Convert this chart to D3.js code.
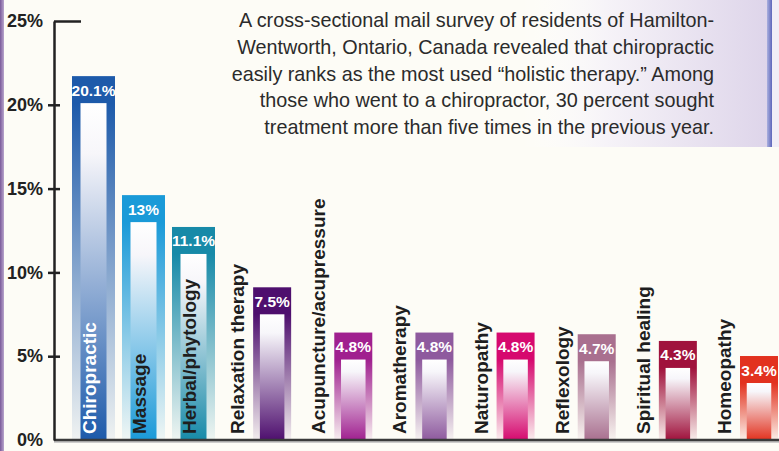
<!DOCTYPE html>
<html>
<head>
<meta charset="utf-8">
<script src="https://cdn.jsdelivr.net/npm/d3@7/dist/d3.min.js"></script>
<style>
	html, body { margin: 0; padding: 0; background: #fdfcf6; overflow: hidden; }
	svg { display: block; }
</style>
</head>
<body>
<div id="chart"></div>
<script>
const categories = ['Chiropractic', 'Massage', 'Herbal/phytology', 'Relaxation therapy', 'Acupuncture/acupressure',
	'Aromatherapy', 'Naturopathy', 'Reflexology', 'Spiritual healing', 'Homeopathy'];
const values = [20.1, 13, 11.1, 7.5, 4.8, 4.8, 4.8, 4.7, 4.3, 3.4];
const barColors = ['#1d5aaa', '#1a9ad8', '#178aa8', '#4e0f6e', '#a0208f', '#8e5a9e', '#d6096e', '#a9708f', '#a0123c', '#e2321f'];
const yTicks = [0, 5, 10, 15, 20, 25];
const noteLines = [
	'A cross-sectional mail survey of residents of Hamilton-',
	'Wentworth, Ontario, Canada revealed that chiropractic',
	'easily ranks as the most used \u201cholistic therapy.\u201d Among',
	'those who went to a chiropractor, 30 percent sought',
	'treatment more than five times in the previous year.'
];

const W = 779, H = 451;
const axisX = 54;
const labelBand = 27;   // coloured strip above each value that carries the % label

const svg = d3.select('#chart').append('svg').attr('width', W).attr('height', H);
const defs = svg.append('defs');

// background
svg.append('rect').attr('width', W).attr('height', H).attr('fill', '#fdfcf6');

const leftStrip = defs.append('linearGradient').attr('id', 'left-strip');
leftStrip.append('stop').attr('offset', 0).attr('stop-color', '#7a5a9a');
leftStrip.append('stop').attr('offset', 1).attr('stop-color', '#b9a6cc');
svg.append('rect').attr('x', 0).attr('y', 0).attr('width', 4).attr('height', H).attr('fill', 'url(#left-strip)');

const panel = defs.append('linearGradient').attr('id', 'note-panel');
panel.append('stop').attr('offset', 0).attr('stop-color', '#ffffff').attr('stop-opacity', 0);
panel.append('stop').attr('offset', 0.35).attr('stop-color', '#f6f3f8');
panel.append('stop').attr('offset', 1).attr('stop-color', '#ded5ea');
svg.append('rect').attr('x', 520).attr('y', 0).attr('width', 247).attr('height', 147).attr('fill', 'url(#note-panel)');

const edge = defs.append('linearGradient').attr('id', 'note-edge');
edge.append('stop').attr('offset', 0).attr('stop-color', '#aab0de');
edge.append('stop').attr('offset', 1).attr('stop-color', '#5e66bb');
svg.append('rect').attr('x', 767).attr('y', 0).attr('width', 5).attr('height', 147).attr('fill', 'url(#note-edge)');
svg.append('rect').attr('x', 772).attr('y', 0).attr('width', 7).attr('height', 147).attr('fill', '#f1eef7');

// scales
const y = d3.scaleLinear().domain([0, 25]).range([440, 21]);
// first three bars sit closer together (labels inside), the rest are spaced wider
const x = d3.scaleLinear().domain([0, 2, 9]).range([72, 172, 740]);
const barW = i => i < 3 ? 43 : 38;
const innerW = i => i < 3 ? 26 : 24.5;

// gradients per bar
values.forEach((v, i) => {
	const h = y(0) - (y(v) - labelBand);
	const outer = defs.append('linearGradient').attr('id', `outer-${i}`)
		.attr('x1', 0).attr('y1', 0).attr('x2', 0).attr('y2', 1);
	outer.append('stop').attr('offset', 0).attr('stop-color', barColors[i]);
	outer.append('stop').attr('offset', labelBand / h).attr('stop-color', barColors[i]);
	outer.append('stop').attr('offset', 1).attr('stop-color', barColors[i]).attr('stop-opacity', 0.06);

	const inner = defs.append('linearGradient').attr('id', `inner-${i}`)
		.attr('x1', 0).attr('y1', 0).attr('x2', 0).attr('y2', 1);
	inner.append('stop').attr('offset', 0).attr('stop-color', '#ffffff');
	inner.append('stop').attr('offset', 0.15).attr('stop-color', '#f7f6fa');
	inner.append('stop').attr('offset', 1).attr('stop-color', barColors[i]);
});

// note text
svg.append('g').selectAll('text').data(noteLines).join('text')
	.attr('x', 714)
	.attr('y', (d, i) => 27 + i * 26.8)
	.attr('text-anchor', 'end')
	.style('font-family', '"Liberation Sans", Arial, sans-serif')
	.style('font-size', '19.8px')
	.style('fill', '#2b2b2b')
	.text(d => d);

// bars
const bars = svg.append('g').selectAll('g.bar').data(values).join('g').attr('class', 'bar');

bars.append('rect')
	.attr('x', (d, i) => x(i))
	.attr('y', d => y(d) - labelBand)
	.attr('width', (d, i) => barW(i))
	.attr('height', d => y(0) - y(d) + labelBand)
	.attr('fill', (d, i) => `url(#outer-${i})`);

bars.append('rect')
	.attr('x', (d, i) => x(i) + (barW(i) - innerW(i)) / 2)
	.attr('y', d => y(d))
	.attr('width', (d, i) => innerW(i))
	.attr('height', d => y(0) - y(d))
	.attr('fill', (d, i) => `url(#inner-${i})`);

bars.append('text')
	.attr('x', (d, i) => x(i) + barW(i) / 2)
	.attr('y', d => y(d) - labelBand + 19.5)
	.attr('text-anchor', 'middle')
	.style('font-family', '"Liberation Sans", Arial, sans-serif')
	.style('font-weight', 'bold')
	.style('font-size', '15.5px')
	.style('fill', '#ffffff')
	.text(d => `${d}%`);

// category names, rotated
bars.append('text')
	.attr('transform', (d, i) => {
		const cx = i < 3 ? x(i) + 18.5 : x(i) - 14;
		return `translate(${cx + 5}, 434) rotate(-90)`;
	})
	.attr('text-anchor', 'start')
	.style('font-family', '"Liberation Sans", Arial, sans-serif')
	.style('font-weight', 'bold')
	.style('font-size', '19px')
	.style('fill', (d, i) => i === 0 ? '#ffffff' : '#1e1e1e')
	.text((d, i) => categories[i]);

// baseline
svg.append('line').attr('x1', axisX).attr('x2', W).attr('y1', y(0) + 2).attr('y2', y(0) + 2)
	.attr('stroke', '#bdbdbd').attr('stroke-width', 1.5);
svg.append('line').attr('x1', axisX).attr('x2', W).attr('y1', y(0)).attr('y2', y(0))
	.attr('stroke', '#3a3a3a').attr('stroke-width', 2.5);

// y axis
const yAxisG = svg.append('g').attr('transform', `translate(${axisX},0)`)
	.call(d3.axisLeft(y).tickValues(yTicks).tickFormat(d => `${d}%`).tickSizeOuter(0).tickSizeInner(6).tickPadding(5));

yAxisG.select('.domain').attr('stroke', '#222').attr('stroke-width', 2.5);
yAxisG.selectAll('.tick line')
	.attr('stroke', '#222').attr('stroke-width', 2.5)
	.attr('x1', d => d === 0 ? 0 : (d === 25 ? 0 : -6))
	.attr('x2', d => d === 0 ? 0 : (d === 25 ? 27 : 6));
yAxisG.selectAll('.tick text')
	.attr('x', -11)
	.style('font-family', '"Liberation Sans Narrow", "Arial Narrow", "Liberation Sans", sans-serif')
	.style('font-weight', 'bold')
	.style('font-size', '18px')
	.style('fill', '#222');
</script>
</body>
</html>
